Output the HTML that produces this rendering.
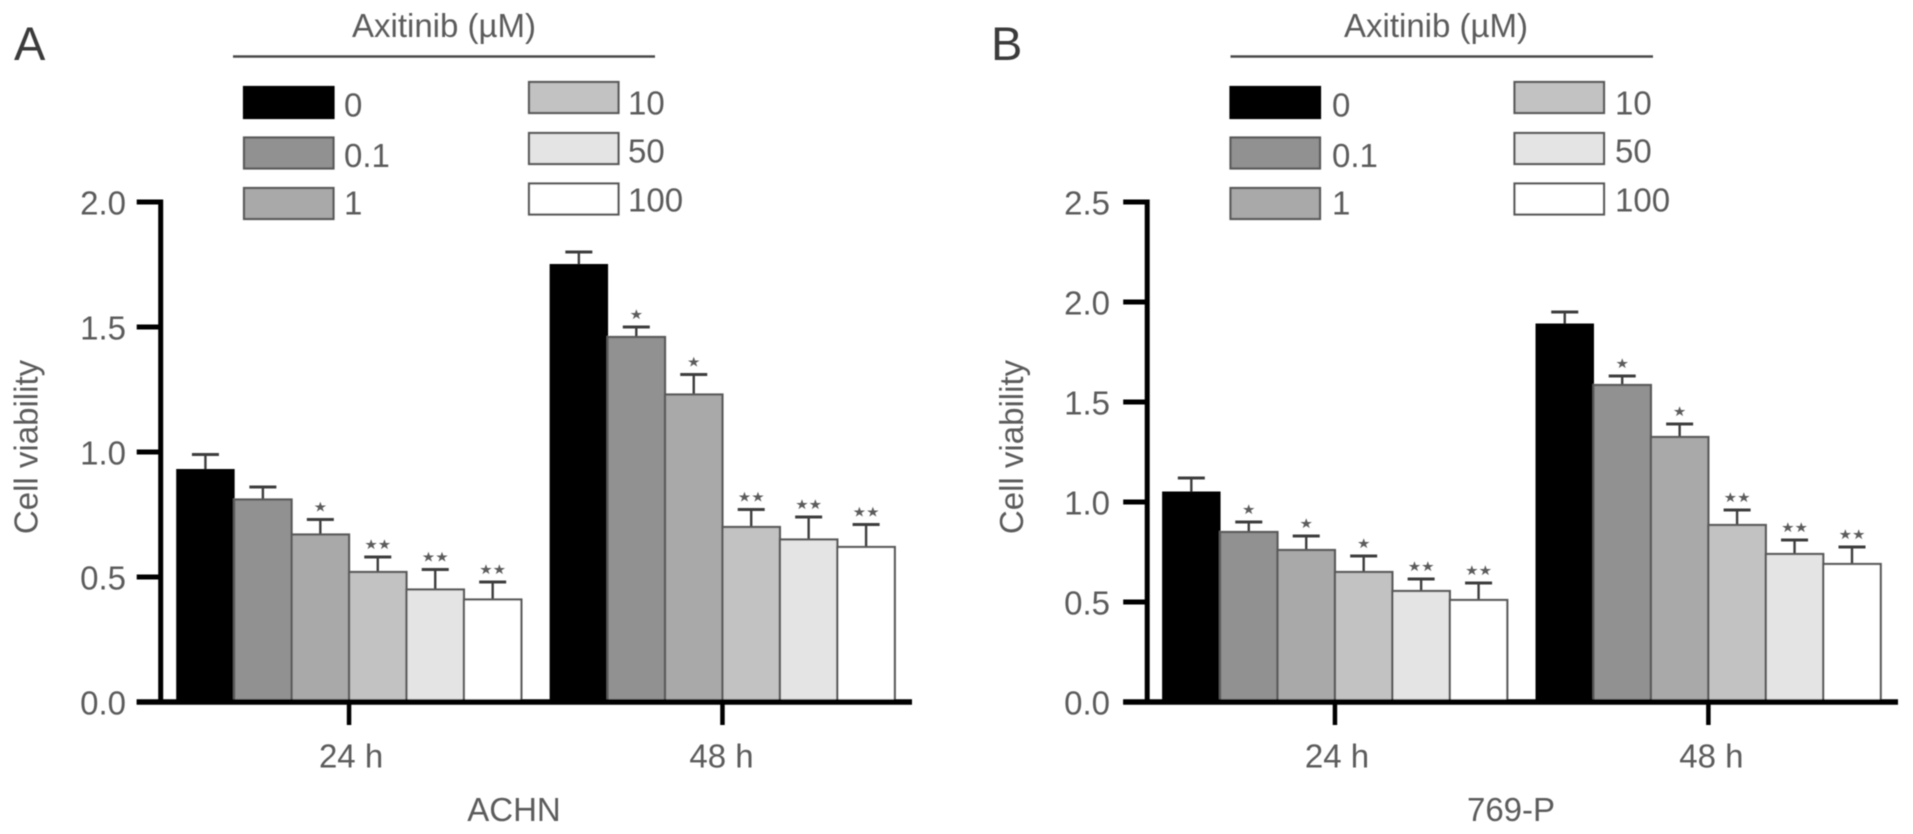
<!DOCTYPE html>
<html lang="en">
<head>
<meta charset="utf-8">
<title>Axitinib cell viability</title>
<style>
html,body{margin:0;padding:0;background:#fff;width:1913px;height:834px;overflow:hidden}
svg{display:block}
text{font-family:"Liberation Sans",sans-serif;fill:#5c5c5c}
</style>
</head>
<body>
<svg id="figure" xmlns="http://www.w3.org/2000/svg" width="1913" height="834" viewBox="0 0 1913 834">
<defs><filter id="soft" x="-2%" y="-2%" width="104%" height="104%"><feGaussianBlur stdDeviation="0.65"/></filter></defs>
<rect width="1913" height="834" fill="#fff"/>
<g id="root" filter="url(#soft)"></g>
</svg>
<script>
const categories = ['24 h', '48 h'];
const doses = ['0', '0.1', '1', '10', '50', '100'];
const fills = ['#000000', '#919191', '#a9a9a9', '#c2c2c2', '#e4e4e4', '#ffffff'];

const achnTicks = ['0.0', '0.5', '1.0', '1.5', '2.0'];
const achnMean24 = [0.93, 0.81, 0.67, 0.52, 0.45, 0.41];
const achnUpper24 = [0.99, 0.86, 0.73, 0.58, 0.53, 0.48];
const achnStars24 = [0, 0, 1, 2, 2, 2];
const achnMean48 = [1.75, 1.46, 1.23, 0.70, 0.65, 0.62];
const achnUpper48 = [1.80, 1.50, 1.31, 0.77, 0.74, 0.71];
const achnStars48 = [0, 1, 1, 2, 2, 2];

const p769Ticks = ['0.0', '0.5', '1.0', '1.5', '2.0', '2.5'];
const p769Mean24 = [1.05, 0.85, 0.76, 0.65, 0.555, 0.51];
const p769Upper24 = [1.12, 0.90, 0.83, 0.73, 0.615, 0.595];
const p769Stars24 = [0, 1, 1, 1, 2, 2];
const p769Mean48 = [1.89, 1.585, 1.325, 0.885, 0.74, 0.69];
const p769Upper48 = [1.95, 1.63, 1.39, 0.96, 0.81, 0.775];
const p769Stars48 = [0, 1, 1, 2, 2, 2];

const NS = 'http://www.w3.org/2000/svg';
const root = document.getElementById('root');
const BASE_Y = 702;
const TOP_Y = 202;
const FONT = 33;

function shape(parent, tag, attrs) {
  const el = document.createElementNS(NS, tag);
  for (const k in attrs) el.setAttribute(k, attrs[k]);
  parent.appendChild(el);
  return el;
}

function label(parent, str, x, y, size, anchor, sx, sy) {
  const el = document.createElementNS(NS, 'text');
  el.setAttribute('transform', 'translate(' + x + ',' + y + ') scale(' + sx + ',' + sy + ')');
  el.setAttribute('font-size', size);
  el.setAttribute('text-anchor', anchor);
  el.textContent = str;
  parent.appendChild(el);
  return el;
}

function drawPanel(p) {
  const g = shape(root, 'g', {});
  
  

  const maxValue = parseFloat(p.ticks[p.ticks.length - 1]);
  const yScale = function (v) { return BASE_Y - v * (BASE_Y - TOP_Y) / maxValue; };
  const barW = 57.45;
  const xGroup = function (i) { return p.barStart + i * 6.5 * barW; };
  const xBar = function (i, j) { return xGroup(i) + j * barW; };

  const letter = label(g, p.letter, p.letterX, 60, 47, 'start', 1, 1);
  letter.setAttribute('style', 'fill:#3a3a3a');
  
  

  const head = label(g, 'Axitinib (\u00b5M)', p.titleX, 37, FONT, 'middle', 1, 1);
  
  
  const rule = shape(g, 'line', { x1: p.ruleX1, x2: p.ruleX2, y1: 56.5, y2: 56.5, stroke: '#4a4a4a', 'stroke-width': 2.6 });
  
  

  doses.forEach(function (dose, j) {
    const col = j < 3 ? 0 : 1;
    const row = j % 3;
    const swX = col === 0 ? p.sw1X : p.sw2X;
    const swY = col === 0 ? [87, 137.5, 188][row] : [82, 133, 183.5][row];
    const sw = shape(g, 'rect', { x: swX, y: swY, width: 89.5, height: 31, fill: fills[j], stroke: j === 0 ? '#000' : '#5a5a5a', 'stroke-width': 2.2 });
    
    
    const lx = col === 0 ? p.lab1X : p.lab2X;
    const ly = col === 0 ? [116.7, 167, 214.5][row] : [114.3, 162.7, 211.7][row];
    const t = label(g, dose, lx, ly, FONT, 'start', 1, 1);
    
    
  });

  categories.forEach(function (cat, i) {
    p.means[i].forEach(function (v, j) {
      const x = xBar(i, j);
      const yTop = yScale(v);
      const yUp = yScale(p.uppers[i][j]);
      const cx = x + barW / 2;
      const stroke = j === 0 ? '#000' : '#5a5a5a';
      const stem = shape(g, 'line', { x1: cx, x2: cx, y1: yUp, y2: yTop, stroke: '#3c3c3c', 'stroke-width': 2.4 });
      
      
      const cap = shape(g, 'line', { x1: cx - 13.5, x2: cx + 13.5, y1: yUp, y2: yUp, stroke: '#3c3c3c', 'stroke-width': 3 });
      
      
      const bar = shape(g, 'rect', { x: x, y: yTop, width: barW, height: BASE_Y - yTop, fill: fills[j], stroke: stroke, 'stroke-width': j === 0 ? 1 : 2.2 });
      
      
      if (p.stars[i][j] > 0) {
        const s = label(g, '\u2605'.repeat(p.stars[i][j]), cx, yUp - 8, 15, 'middle', 1, 0.9);
        s.setAttribute('style', 'font-family:"DejaVu Sans",sans-serif');
        
        
      }
    });
  });

  const yAxis = shape(g, 'line', { x1: p.axisX, x2: p.axisX, y1: TOP_Y - 2.5, y2: BASE_Y, stroke: '#000', 'stroke-width': 5 });
  
  
  const xAxis = shape(g, 'line', { x1: p.axisX - 24, x2: p.axisEnd, y1: BASE_Y, y2: BASE_Y, stroke: '#000', 'stroke-width': 5.5 });
  
  

  p.ticks.forEach(function (tick) {
    const y = yScale(parseFloat(tick));
    const mark = shape(g, 'line', { x1: p.axisX - 24, x2: p.axisX, y1: y, y2: y, stroke: '#000', 'stroke-width': 5 });
    
    
    const t = label(g, tick, p.tickRight, y + 12.5, FONT, 'end', 1, 1);
    
    
  });

  categories.forEach(function (cat, i) {
    const x = xGroup(i) + 3 * barW;
    const mark = shape(g, 'line', { x1: x, x2: x, y1: BASE_Y, y2: 725, stroke: '#000', 'stroke-width': 4.5 });
    
    
    const t = label(g, cat, x + p.catOffset[i], 767.7, FONT, 'middle', 1, 1);
    
    
  });

  const xt = label(g, p.name, p.nameX, 821, FONT, 'middle', 1, 1);
  
  

  const yt = document.createElementNS(NS, 'text');
  yt.setAttribute('transform', 'translate(' + p.yLabelX + ',447) rotate(-90)');
  yt.setAttribute('font-size', FONT);
  yt.setAttribute('text-anchor', 'middle');
  yt.textContent = 'Cell viability';
  
  
  g.appendChild(yt);
}

drawPanel({
  name: 'ACHN', letter: 'A', letterX: 14, titleX: 444, ruleX1: 233, ruleX2: 655,
  sw1X: 244, sw2X: 529, lab1X: 344, lab2X: 628,
  axisX: 160.7, axisEnd: 912, barStart: 176.7, tickRight: 126, yLabelX: 37.5,
  catOffset: [2, -1], nameX: 514, ticks: achnTicks,
  means: [achnMean24, achnMean48], uppers: [achnUpper24, achnUpper48], stars: [achnStars24, achnStars48]
});
drawPanel({
  name: '769-P', letter: 'B', letterX: 991, titleX: 1436, ruleX1: 1230.5, ruleX2: 1653,
  sw1X: 1230.5, sw2X: 1514.5, lab1X: 1332, lab2X: 1615,
  axisX: 1147.2, axisEnd: 1898, barStart: 1162.6, tickRight: 1110, yLabelX: 1023,
  catOffset: [2, 3], nameX: 1511, ticks: p769Ticks,
  means: [p769Mean24, p769Mean48], uppers: [p769Upper24, p769Upper48], stars: [p769Stars24, p769Stars48]
});
</script>
</body>
</html>
